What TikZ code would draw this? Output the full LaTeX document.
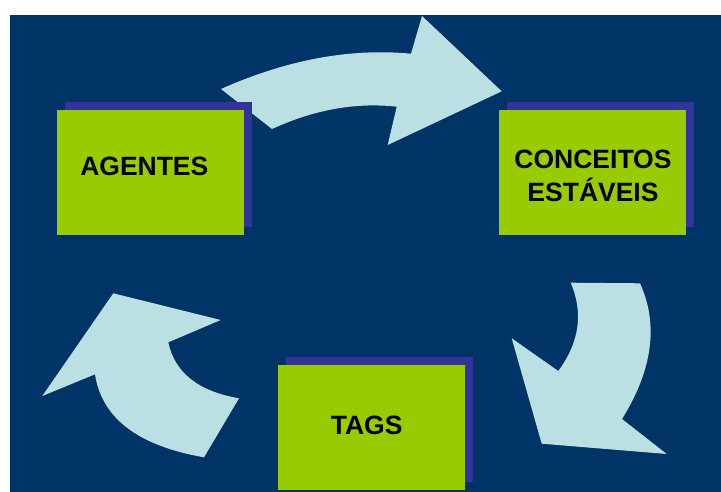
\documentclass[tikz,border=0pt]{standalone}
\usepackage{fontspec}
\setmainfont{Liberation Sans}
\usetikzlibrary{shadows}

\definecolor{bgblue}{HTML}{003366}
\definecolor{boxgreen}{HTML}{99CC00}
\definecolor{shadowblue}{HTML}{333399}
\definecolor{arrowblue}{HTML}{BAE0E3}

\begin{document}
\begin{tikzpicture}[x=1pt,y=-1pt,
  greenbox/.style={fill=boxgreen, minimum width=187pt, minimum height=125pt, inner sep=0pt,
    drop shadow={shadow xshift=8pt, shadow yshift=8pt, fill=shadowblue, opacity=1}},
  boxtext/.style={font=\fontsize{26.5}{32.7}\selectfont\bfseries, align=center, inner sep=0pt},
  cyclearrow/.style={fill=arrowblue}]

\useasboundingbox (0,0) rectangle (721,492);
\fill[bgblue] (10,15) rectangle (721,492);

% agentes -> conceitos
\fill[cyclearrow] (221,89) .. controls (287,59.7) and (350.3,47.9) .. (411,53.7)
  -- (422,16) -- (501.7,91.3) -- (387.7,145) -- (396.7,106.7)
  .. controls (355.6,102.2) and (314,109.7) .. (272,129) -- cycle;

% conceitos -> tags
\fill[cyclearrow] (570.7,282.7) -- (640,283.3)
  .. controls (658.7,324.4) and (652.7,369.7) .. (622,419)
  -- (666.7,454) -- (541.7,443.7) -- (511.7,338.3) -- (558.3,371)
  .. controls (579.4,342.3) and (583.6,312.9) .. (570.7,282.7) -- cycle;

% tags -> agentes
\fill[cyclearrow] (239,398.3) -- (204,457.3)
  .. controls (138,445.8) and (101.7,418.1) .. (95,374.3)
  -- (42.3,396) -- (113.3,293.3) -- (220.7,320) -- (168.3,342.3)
  .. controls (174.8,372.8) and (198.3,391.3) .. (239,398.3) -- cycle;

\node[greenbox] (agentes) at (150.3,172.3) {};
\node[greenbox] (conceitos) at (592.5,172.3) {};
\node[greenbox] (tags) at (371.5,427.3) {};

\node[boxtext] (agentestext) at ([xshift=-6pt,yshift=5.5pt]agentes.center) {AGENTES};
\node[boxtext] (conceitostext) at ([xshift=0.5pt,yshift=-3.7pt]conceitos.center) {CONCEITOS\\EST\'AVEIS};
\node[boxtext] (tagstext) at ([xshift=-4.8pt,yshift=2.3pt]tags.center) {TAGS};

\end{tikzpicture}
\end{document}
